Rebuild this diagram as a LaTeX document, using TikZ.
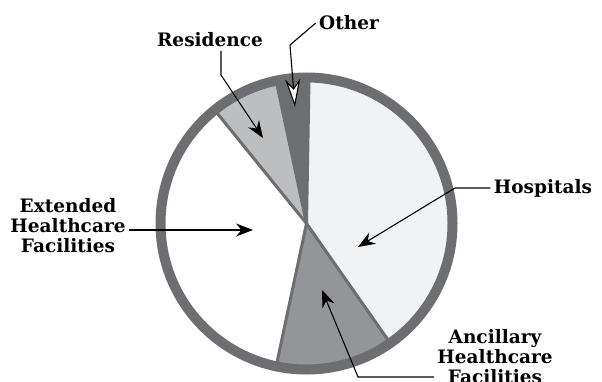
\documentclass[tikz,border=0pt]{standalone}
\usepackage{fontspec}
\setmainfont{DejaVu Serif}
\usepackage{tikz}
\usetikzlibrary{arrows.meta,positioning}
\definecolor{ringgray}{RGB}{109,110,113}
\definecolor{hospgray}{RGB}{241,242,243}
\definecolor{ancgray}{RGB}{147,149,152}
\definecolor{resgray}{RGB}{188,190,192}

\begin{document}
\begin{tikzpicture}[
	x = 1pt, y = 1pt,
	> = {Stealth[length=17pt,width=13pt]},
	caption/.style = {font=\fontsize{18.5}{20}\selectfont\bfseries, align=center},
	pointer/.style = {->, line width=1.1pt},
	divider/.style = {ringgray, line width=3pt},
	rim/.style = {ringgray, line width=10pt}
	]
	\useasboundingbox (0,0) rectangle (602,381);
	\coordinate (O) at (306.5,157.5);
	% slices
	\foreach \a/\b/\c in {-55/89/hospgray, 89/102/ringgray, 102/129/resgray, 258/305/ancgray}
		\fill[\c] (O) -- ++(\a:146) arc[start angle=\a, end angle=\b, radius=146] -- cycle;
	\foreach \a in {-55,89,102,129,258}
		\draw[divider] (O) -- ++(\a:146);
	\draw[rim] (O) circle[radius=146];
	% labels
	\node[caption, anchor=base] (res) at (210,334) {Residence};
	\node[caption, anchor=base] (oth) at (349,351) {Other};
	\node[caption, anchor=base] (hosp) at (543,188) {Hospitals};
	\node[caption] (ext) at (68,155) {Extended\\Healthcare\\Facilities};
	\node[caption] (anc) at (495,24) {Ancillary\\Healthcare\\Facilities};
	% pointers
	\coordinate (resbend) at (221,306);
	\coordinate (restip) at (263,243);
	\coordinate (othbend) at (290,336);
	\coordinate (othtip) at (295,274);
	\coordinate (hospbend) at (455,193);
	\coordinate (hosptip) at (358,134);
	\coordinate (exttip) at (253,151);
	\coordinate (ancbend) at (358,4);
	\coordinate (anctip) at (322,91);
	\draw[pointer] (res.south -| resbend) -- (resbend) -- (restip);
	\draw[pointer, -{Stealth[length=28pt,width=15pt,fill=white]}] (oth.west) -- (othbend) -- (othtip);
	\draw[pointer] (hosp.west |- hospbend) -- (hospbend) -- (hosptip);
	\draw[pointer] (ext.east |- exttip) -- (exttip);
	\draw[pointer] (anc.west |- ancbend) -- (ancbend) -- (anctip);
\end{tikzpicture}
\end{document}
